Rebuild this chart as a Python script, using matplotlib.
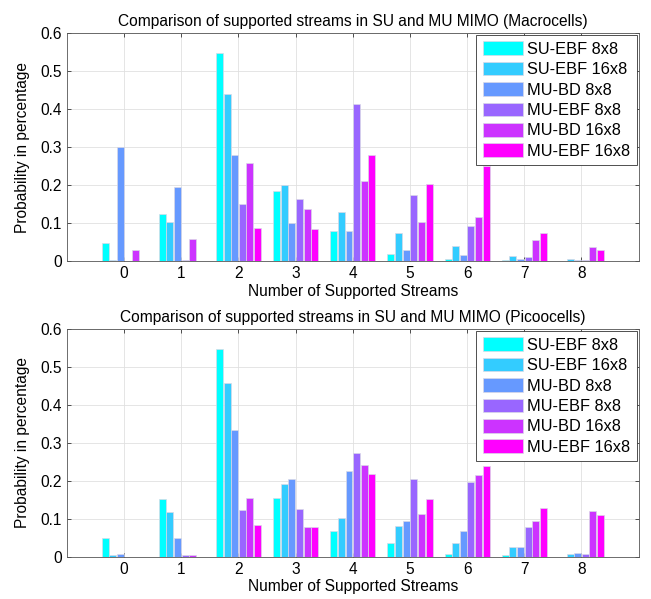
import numpy as np
import matplotlib
matplotlib.use("Agg")
import matplotlib.pyplot as plt

plt.rcParams['font.family'] = ['Liberation Sans', 'DejaVu Sans']

streams = [0, 1, 2, 3, 4, 5, 6, 7, 8]
series_names = ["SU-EBF 8x8", "SU-EBF 16x8", "MU-BD 8x8", "MU-EBF 8x8", "MU-BD 16x8", "MU-EBF 16x8"]

# Macrocells
macro_su_ebf_8x8 = [0.048, 0.123, 0.548, 0.184, 0.080, 0.019, 0.005, 0.003, 0.0]
macro_su_ebf_16x8 = [0.003, 0.103, 0.441, 0.200, 0.128, 0.075, 0.040, 0.013, 0.005]
macro_mu_bd_8x8 = [0.301, 0.195, 0.278, 0.099, 0.080, 0.029, 0.015, 0.005, 0.003]
macro_mu_ebf_8x8 = [0.0, 0.003, 0.150, 0.163, 0.414, 0.174, 0.093, 0.010, 0.003]
macro_mu_bd_16x8 = [0.028, 0.058, 0.257, 0.138, 0.211, 0.104, 0.115, 0.056, 0.037]
macro_mu_ebf_16x8 = [0.0, 0.0, 0.088, 0.083, 0.280, 0.203, 0.249, 0.075, 0.029]

# Picocells
pico_su_ebf_8x8 = [0.049, 0.151, 0.549, 0.156, 0.068, 0.037, 0.006, 0.004, 0.0]
pico_su_ebf_16x8 = [0.004, 0.119, 0.457, 0.191, 0.103, 0.080, 0.037, 0.025, 0.006]
pico_mu_bd_8x8 = [0.006, 0.049, 0.334, 0.204, 0.225, 0.093, 0.068, 0.025, 0.011]
pico_mu_ebf_8x8 = [0.0, 0.004, 0.124, 0.127, 0.274, 0.206, 0.196, 0.079, 0.006]
pico_mu_bd_16x8 = [0.0, 0.004, 0.154, 0.079, 0.241, 0.113, 0.215, 0.095, 0.121]
pico_mu_ebf_16x8 = [0.0, 0.0, 0.084, 0.079, 0.219, 0.153, 0.239, 0.129, 0.111]

titles = ["Comparison of supported streams in SU and MU MIMO (Macrocells)",
          "Comparison of supported streams in SU and MU MIMO (Picoocells)"]
xlabel = "Number of Supported Streams"
ylabel = "Probability in percentage"
yticks = [0, 0.1, 0.2, 0.3, 0.4, 0.5, 0.6]
ytick_labels = ["0", "0.1", "0.2", "0.3", "0.4", "0.5", "0.6"]

colors = [(0, 1, 1), (0.2, 0.8, 1), (0.4, 0.6, 1), (0.6, 0.4, 1), (0.8, 0.2, 1), (1, 0, 1)]

panels = [
    [macro_su_ebf_8x8, macro_su_ebf_16x8, macro_mu_bd_8x8, macro_mu_ebf_8x8, macro_mu_bd_16x8, macro_mu_ebf_16x8],
    [pico_su_ebf_8x8, pico_su_ebf_16x8, pico_mu_bd_8x8, pico_mu_ebf_8x8, pico_mu_bd_16x8, pico_mu_ebf_16x8],
]

fig = plt.figure(figsize=(6.51, 5.99), dpi=100)
rects = [[0.1029, 0.5643, 0.981 - 0.1029, 0.9444 - 0.5643],
         [0.1029, 0.0706, 0.981 - 0.1029, 0.4503 - 0.0706]]

x = np.array(streams, dtype=float)
slot = 0.8 / 6
bw = 0.122
fs = 11.2
lfs = 11.8

for r, series, title in zip(rects, panels, titles):
    ax = fig.add_axes(r)
    ax.set_axisbelow(True)
    for i, (vals, c, name) in enumerate(zip(series, colors, series_names)):
        ax.bar(x + (i - 2.5) * slot, vals, width=bw, color=c, edgecolor=(0.85, 0.85, 0.9),
               linewidth=0.5, label=name)
    ax.set_xlim(-1, 9)
    ax.set_ylim(0, 0.6)
    ax.set_xticks(streams)
    ax.set_xticklabels([str(s) for s in streams], fontsize=fs)
    ax.set_yticks(yticks)
    ax.set_yticklabels(ytick_labels, fontsize=fs)
    ax.grid(True, color=(0.88, 0.88, 0.88), linewidth=0.6)
    ax.tick_params(direction='in', top=True, right=True, length=3, width=0.6, color='#333333', pad=3.5)
    for s in ax.spines.values():
        s.set_color('#555555')
        s.set_linewidth(0.6)
    ax.set_title(title, fontsize=fs, pad=5)
    ax.set_xlabel(xlabel, fontsize=fs, labelpad=2)
    ax.set_ylabel(ylabel, fontsize=fs, labelpad=8)
    leg = ax.legend(loc='upper right', bbox_to_anchor=(1.0, 1.0), borderaxespad=0.1,
                    fontsize=lfs, handlelength=2.44, handleheight=0.9, labelspacing=0.3,
                    handletextpad=0.27, borderpad=0.4, fancybox=False, framealpha=1,
                    edgecolor='#333333')
    leg.get_frame().set_linewidth(0.6)

fig.savefig("out.png", dpi=100)
